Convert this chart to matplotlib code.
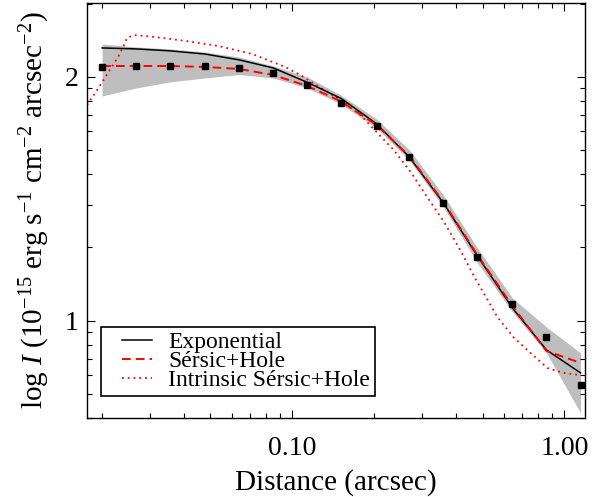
import numpy as np
import matplotlib
matplotlib.use("Agg")
import matplotlib.pyplot as plt
from matplotlib.ticker import FixedLocator, FixedFormatter, LogLocator, NullFormatter
from matplotlib.legend_handler import HandlerLine2D

plt.rcParams['font.family'] = ['Liberation Serif', 'DejaVu Serif']
plt.rcParams['mathtext.fontset'] = 'custom'
plt.rcParams['mathtext.rm'] = 'Liberation Serif'
plt.rcParams['mathtext.it'] = 'Liberation Serif:italic'

# ---- data (log10 of surface brightness) ----
radius = [0.020, 0.0267, 0.0356, 0.0478, 0.0638, 0.0851, 0.1135, 0.151,
          0.204, 0.269, 0.359, 0.479, 0.644, 0.859, 1.146]
obs_logI = [2.041, 2.045, 2.045, 2.045, 2.037, 2.016, 1.967, 1.893,
            1.797, 1.672, 1.484, 1.264, 1.070, 0.934, 0.738]
expo_logI = [2.119, 2.115, 2.107, 2.094, 2.070, 2.037, 1.978, 1.912,
             1.808, 1.672, 1.484, 1.266, 1.053, 0.881, 0.787]
sersic_logI = [2.045, 2.045, 2.045, 2.041, 2.033, 2.008, 1.963, 1.900,
               1.803, 1.676, 1.488, 1.270, 1.061, 0.877, 0.828]
band_upper = [2.135, 2.123, 2.115, 2.102, 2.082, 2.045, 2.000, 1.925,
              1.828, 1.701, 1.516, 1.299, 1.094, 0.975, 0.869]
band_lower = [1.922, 1.955, 1.980, 1.996, 2.010, 1.996, 1.955, 1.889,
              1.791, 1.660, 1.467, 1.238, 1.037, 0.869, 0.623]

intr_r = [0.0176, 0.0194, 0.0211, 0.0229, 0.0239, 0.0247, 0.0262, 0.0306,
          0.0404, 0.0535, 0.0713, 0.0942, 0.107, 0.150, 0.178, 0.211, 0.235,
          0.272, 0.313, 0.359, 0.410, 0.467, 0.526, 0.567, 0.649, 0.750,
          0.866, 0.991, 1.117]
intr_logI = [1.885, 1.955, 2.020, 2.082, 2.123, 2.160, 2.172, 2.165, 2.148,
             2.127, 2.094, 2.041, 2.008, 1.906, 1.844, 1.757, 1.703, 1.611,
             1.508, 1.410, 1.300, 1.180, 1.080, 1.016, 0.934, 0.869, 0.807,
             0.787, 0.779]

x_major = [0.1, 1.0]
x_labels = ["0.10", "1.00"]
y_major = [10.0, 100.0]
y_labels = ["1", "2"]

def lin(v):
    return 10.0 ** np.asarray(v)

fig = plt.figure(figsize=(5.92, 4.97), dpi=100)
ax = fig.add_axes([87/592, 1-418/497, (585-87)/592, (418-3)/497])

ax.fill_between(radius, lin(band_lower), lin(band_upper), color='#bebebe',
                linewidth=0, zorder=1)
l1, = ax.plot(radius, lin(expo_logI), color='black', lw=1.1, zorder=3,
              label='Exponential')
l2, = ax.plot(radius, lin(sersic_logI), color='#ff0000', lw=1.4,
              linestyle=(0, (4.5, 2.6)), zorder=4, label='Sérsic+Hole')
l3, = ax.plot(intr_r, lin(intr_logI), color='#ff0000', lw=1.3,
              linestyle=(0, (1, 2.2)), zorder=2, label='Intrinsic Sérsic+Hole')
ax.plot(radius, lin(obs_logI), linestyle='none', marker='s', ms=4.3,
        color='black', zorder=5)

ax.set_xscale('log')
ax.set_yscale('log')
ax.set_xlim(0.0176, 1.19)
ax.set_ylim(4.0, 201.0)

ax.xaxis.set_major_locator(FixedLocator(x_major))
ax.xaxis.set_major_formatter(FixedFormatter(x_labels))
ax.xaxis.set_minor_locator(LogLocator(base=10, subs=np.arange(2, 10)))
ax.xaxis.set_minor_formatter(NullFormatter())
ax.yaxis.set_major_locator(FixedLocator(y_major))
ax.yaxis.set_major_formatter(FixedFormatter(y_labels))
ax.yaxis.set_minor_locator(LogLocator(base=10, subs=np.arange(2, 10)))
ax.yaxis.set_minor_formatter(NullFormatter())

ax.tick_params(which='both', direction='in', top=True, right=True,
               width=0.8, colors='black')
ax.tick_params(which='major', length=6)
ax.tick_params(which='minor', length=3.3)
ax.tick_params(axis='x', which='major', labelsize=20, pad=13)
ax.tick_params(axis='y', which='major', labelsize=20, pad=6)
for s in ax.spines.values():
    s.set_linewidth(1.0)

ax.set_xlabel('Distance (arcsec)', fontsize=21, labelpad=6)
ax.set_ylabel(r'log $I$ (10$^{-15}$ erg s$^{-1}$ cm$^{-2}$ arcsec$^{-2}$)',
              fontsize=21, labelpad=9)

hmap = {l: HandlerLine2D(numpoints=2, marker_pad=0.7) for l in (l1, l2, l3)}
leg = ax.legend(handles=[l1, l2, l3], loc='lower left',
                bbox_to_anchor=(0.028, 0.053), borderaxespad=0,
                fontsize=17, handlelength=2.65, handletextpad=0.0,
                labelspacing=-0.1, borderpad=0.2, fancybox=False,
                framealpha=1, edgecolor='black', handler_map=hmap)
leg.get_frame().set_linewidth(1.2)

fig.savefig('out.png', dpi=100)
